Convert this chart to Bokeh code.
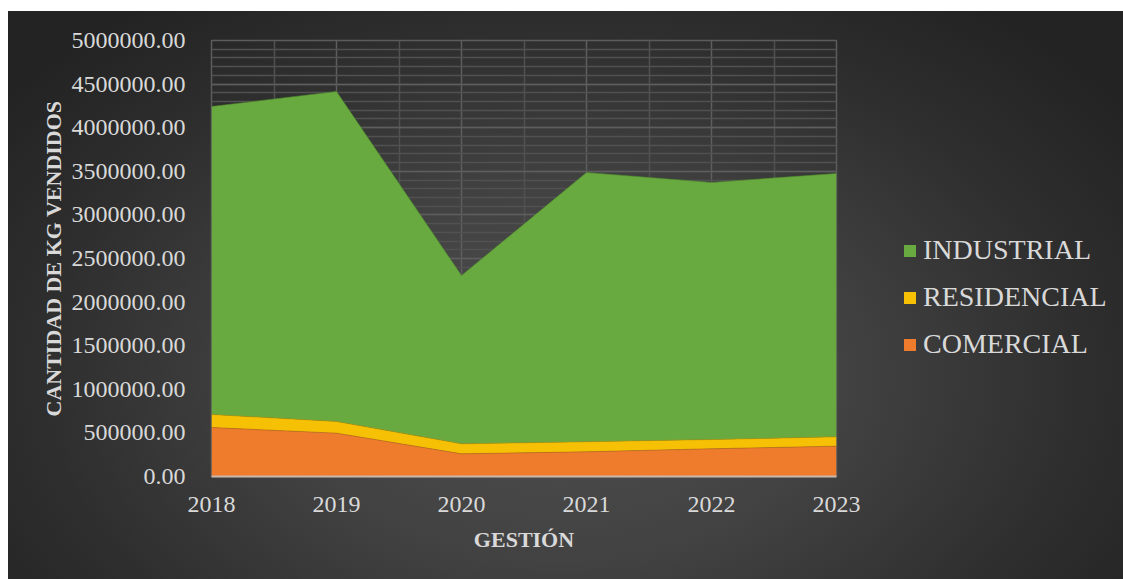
from bokeh.plotting import figure
from bokeh.layouts import row
from bokeh.models import ColumnDataSource, NumeralTickFormatter, FixedTicker, Legend, LegendItem, Range1d
from bokeh.embed import file_html
from bokeh.resources import INLINE

years = [2018, 2019, 2020, 2021, 2022, 2023]
year_labels = ["2018", "2019", "2020", "2021", "2022", "2023"]
comercial = [562000, 497000, 260000, 283000, 318000, 348000]
residencial = [149000, 134000, 115000, 115000, 106000, 107000]
industrial = [3532000, 3784000, 1930000, 3088000, 2948000, 3020000]
series_names = ["COMERCIAL", "RESIDENCIAL", "INDUSTRIAL"]
colors = ["#ef7b2c", "#f6c104", "#69aa40"]
y_ticks = [0, 500000, 1000000, 1500000, 2000000, 2500000, 3000000, 3500000, 4000000, 4500000, 5000000]

source = ColumnDataSource(dict(year=years, COMERCIAL=comercial, RESIDENCIAL=residencial, INDUSTRIAL=industrial))

W, H = 1123, 579
MAIN_W = 880
p = figure(width=MAIN_W, height=H, output_backend="svg", toolbar_location=None,
           x_range=Range1d(2018, 2023), y_range=Range1d(0, 5000000),
           min_border_left=211, min_border_top=40, min_border_right=MAIN_W - 836, min_border_bottom=H - 476)
p.border_fill_color = None
p.background_fill_color = None
p.outline_line_color = "#5c5c5c"
p.outline_line_width = 1.5

renderers = p.varea_stack(stackers=series_names, x="year", color=colors, source=source)
p.vline_stack(stackers=series_names, x="year", color=["#b5621f", "#b8940a", "#4e8a2c"],
              line_width=1, line_alpha=0.6, source=source)

font = "Liberation Serif"
# y axis
p.yaxis.ticker = FixedTicker(ticks=y_ticks, minor_ticks=list(range(0, 5000001, 100000)))
p.yaxis.formatter = NumeralTickFormatter(format="0.00")
p.yaxis.axis_line_color = None
p.yaxis.major_tick_line_color = None
p.yaxis.minor_tick_line_color = None
p.yaxis.major_label_text_font = font
p.yaxis.major_label_text_font_size = "24px"
p.yaxis.major_label_text_color = "#d9d9d9"
p.yaxis.major_label_standoff = 20
p.yaxis.axis_label = "CANTIDAD DE KG VENDIDOS"
p.yaxis.axis_label_text_font = font
p.yaxis.axis_label_text_font_style = "bold"
p.yaxis.axis_label_text_font_size = "22px"
p.yaxis.axis_label_text_color = "#d9d9d9"
p.yaxis.axis_label_standoff = 3

# x axis
p.xaxis.ticker = FixedTicker(ticks=years, minor_ticks=[2018.5, 2019.5, 2020.5, 2021.5, 2022.5])
p.xaxis.major_label_overrides = {y: l for y, l in zip(years, year_labels)}
p.xaxis.axis_line_color = "#c9b8ae"
p.xaxis.axis_line_width = 2
p.xaxis.major_tick_line_color = None
p.xaxis.minor_tick_line_color = None
p.xaxis.major_label_text_font = font
p.xaxis.major_label_text_font_size = "24px"
p.xaxis.major_label_text_color = "#d9d9d9"
p.xaxis.major_label_standoff = 14
p.xaxis.axis_label = "GESTIÓN"
p.xaxis.axis_label_text_font = font
p.xaxis.axis_label_text_font_style = "bold"
p.xaxis.axis_label_text_font_size = "22px"
p.xaxis.axis_label_text_color = "#d9d9d9"
p.xaxis.axis_label_standoff = 12

# grids
p.ygrid.grid_line_color = "#5e5e5e"
p.ygrid.grid_line_width = 1.5
p.ygrid.minor_grid_line_color = "#515151"
p.ygrid.minor_grid_line_width = 1.5
p.xgrid.grid_line_color = "#5e5e5e"
p.xgrid.grid_line_width = 1.5
p.xgrid.minor_grid_line_color = "#515151"
p.xgrid.minor_grid_line_width = 1.5

# legend panel (separate figure so the legend is not clipped by the plot frame)
lg = figure(width=W - MAIN_W, height=H, output_backend="svg", toolbar_location=None,
            x_axis_location=None, y_axis_location=None, min_border=0,
            x_range=Range1d(0, 1), y_range=Range1d(0, 1))
lg.border_fill_color = None
lg.background_fill_color = None
lg.outline_line_color = None
lg.grid.visible = False
# same data, drawn outside this panel's visible range: only the legend swatches show
lg_rends = lg.varea_stack(stackers=series_names, x="year", color=colors, source=source)

items = [LegendItem(label=series_names[i], renderers=[lg_rends[i]]) for i in [2, 1, 0]]
legend = Legend(items=items, location=(22, 116), orientation="vertical")
legend.background_fill_alpha = 0
legend.border_line_color = None
legend.label_text_font = font
legend.label_text_font_size = "28px"
legend.label_text_color = "#d9d9d9"
legend.glyph_width = 15
legend.glyph_height = 15
legend.label_standoff = 6
legend.spacing = 15
legend.padding = 0
legend.margin = 0
lg.add_layout(legend, "center")

layout = row(p, lg)
layout.styles = {
    "background": "linear-gradient(#ffffff,#ffffff) top left / 100% 11px no-repeat, "
                  "linear-gradient(#ffffff,#ffffff) top left / 8px 100% no-repeat, "
                  "radial-gradient(ellipse 62% 80% at 50% 65%, #4f4f4f 0%, #424242 40%, #2e2e2e 75%, #232323 100%)"
}

open("out.html", "w").write(file_html(layout, INLINE))
